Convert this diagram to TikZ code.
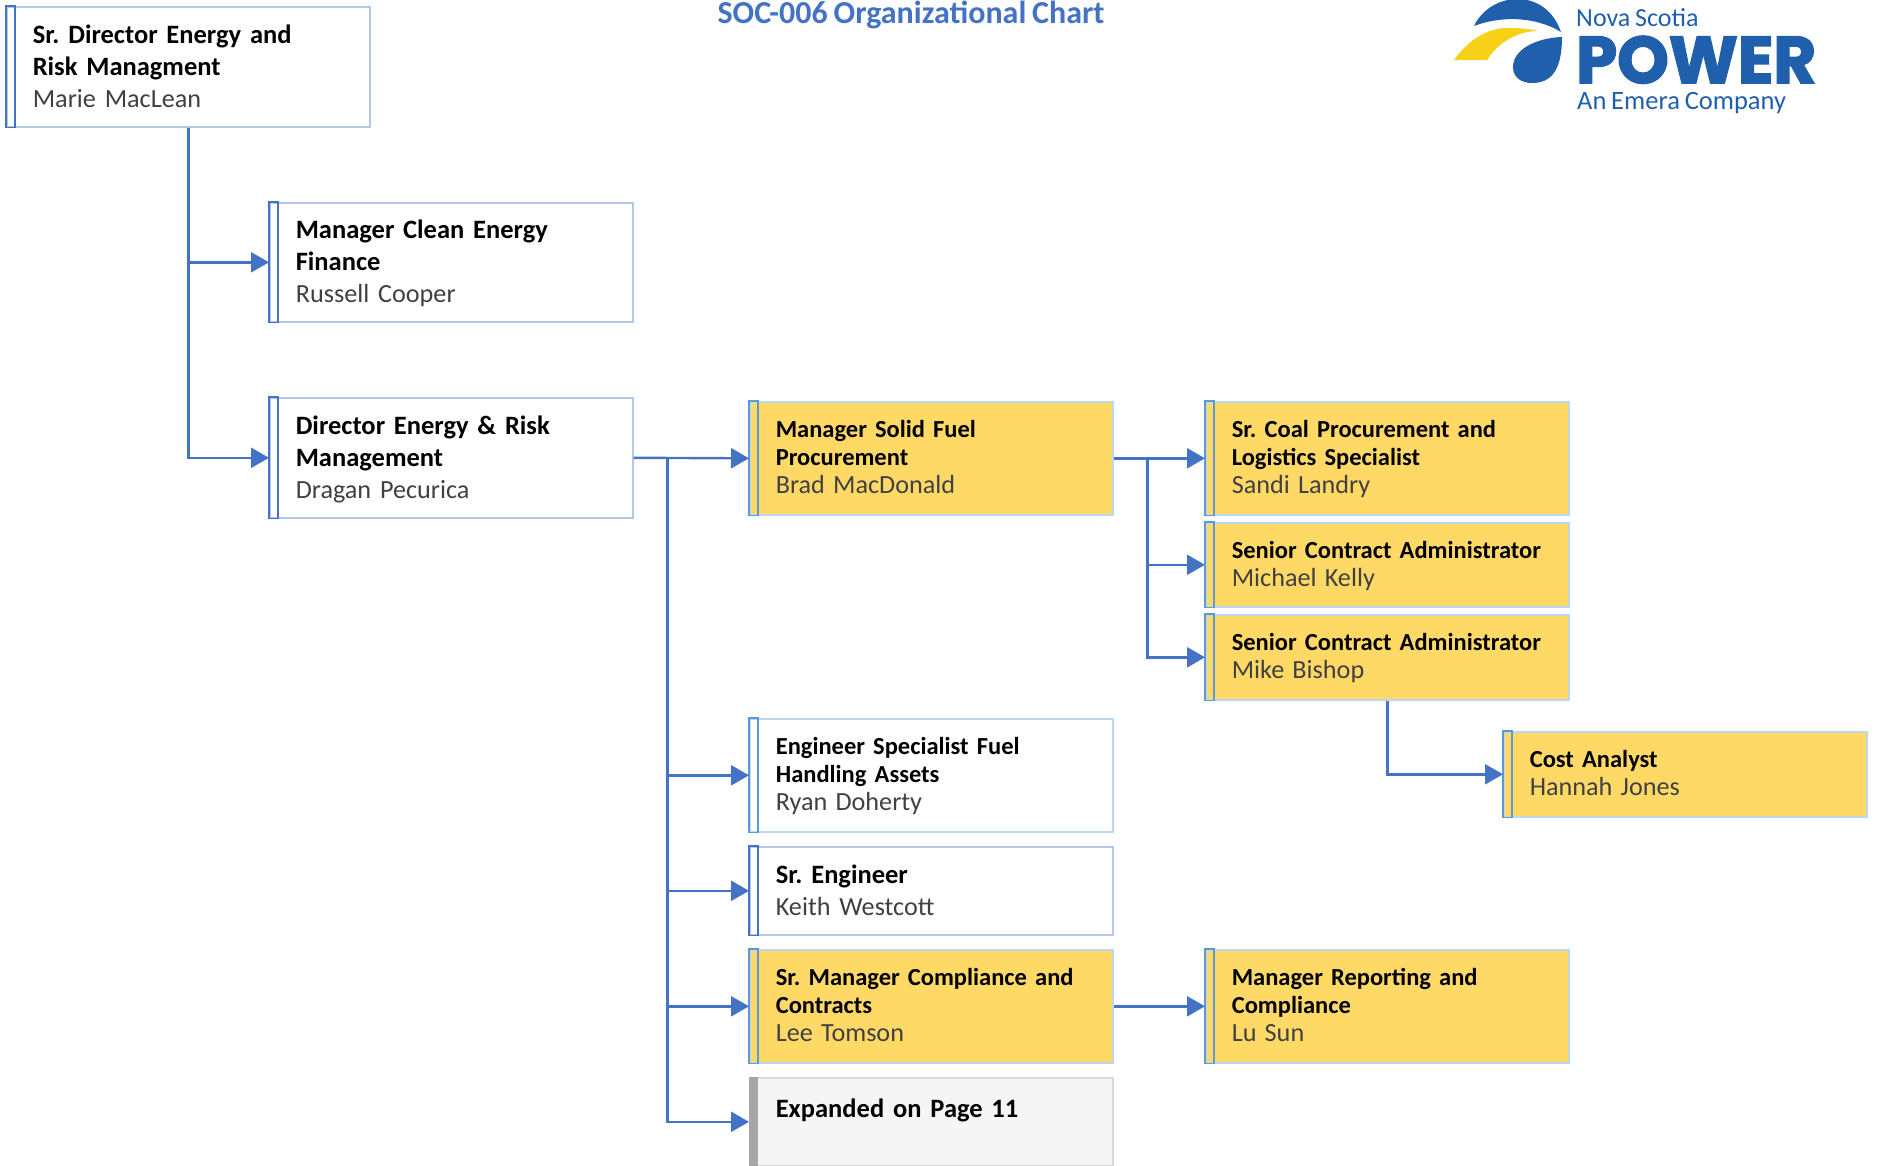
\documentclass[tikz,border=0pt]{standalone}
\usepackage{fontspec}
\setmainfont[WordSpace=0.8]{Carlito}
\newfontfamily\logofont[BoldFeatures={FakeBold=2.5}]{Poppins}
\usetikzlibrary{calc}
\usetikzlibrary{arrows.meta}
\definecolor{linkblue}{HTML}{4472C4}
\definecolor{whiteedge}{HTML}{B4C7E7}
\definecolor{paleedge}{HTML}{BDD7EE}
\definecolor{barblue}{HTML}{5B9BD5}
\definecolor{staffgold}{HTML}{FFD966}
\definecolor{namegray}{HTML}{404040}
\definecolor{logoblue}{HTML}{1F5FAB}
\definecolor{logoyellow}{HTML}{F7D117}
\tikzset{
 orgbox/.style={draw=whiteedge, line width=1.6pt, anchor=north west, align=left, inner xsep=26pt, inner ysep=0pt, text width=311pt, minimum width=363pt},
 bigtext/.style={font=\fontsize{26.5}{32}\selectfont},
 smalltext/.style={font=\fontsize{24.5}{28}\selectfont},
 goldbox/.style={orgbox, smalltext, fill=staffgold, draw=paleedge},
 grayoff/.style={orgbox, bigtext, fill=black!4, draw=black!15},
 link/.style={draw=linkblue, line width=2.4pt, -{Triangle[length=18pt,width=20pt]}},
 logotext/.style={text=logoblue, anchor=base west, inner sep=0pt},
}
\newcommand{\jobtext}[2]{\rule{0pt}{.85em}\textbf{#1}\\{\color{namegray}\fontsize{26.2}{28}\selectfont #2\rule[-6pt]{0pt}{1pt}}}
\frenchspacing
\begin{document}
\begin{tikzpicture}[x=1pt,y=-1pt]
\useasboundingbox (0,0) rectangle (1877,1165);
\clip (0,0) rectangle (1877,1165);

\node[orgbox, bigtext, minimum height=120pt] (srdirector) at (6,6) {\jobtext{Sr. Director Energy and\\Risk Managment}{Marie MacLean}};
\node[orgbox, bigtext, minimum height=119pt] (cleanfinance) at (269,202) {\jobtext{Manager Clean Energy\\Finance}{Russell Cooper}};
\node[orgbox, bigtext, minimum height=120pt] (director) at (269,397) {\jobtext{Director Energy \& Risk\\Management}{Dragan Pecurica}};

\node[goldbox, minimum height=113pt] (solidfuel) at (749,401) {\jobtext{Manager Solid Fuel\\Procurement}{Brad MacDonald}};
\node[goldbox, minimum height=113pt] (coal) at (1205,401) {\jobtext{Sr. Coal Procurement and\\Logistics Specialist}{Sandi Landry}};
\node[goldbox, minimum height=84pt] (contractA) at (1205,522) {\jobtext{Senior Contract Administrator}{Michael Kelly}};
\node[goldbox, minimum height=85pt] (contractB) at (1205,614) {\jobtext{Senior Contract Administrator}{Mike Bishop}};
\node[goldbox, minimum height=85pt] (cost) at (1503,731) {\jobtext{Cost Analyst}{Hannah Jones}};

\node[orgbox, smalltext, draw=paleedge, minimum height=113pt] (fuelassets) at (749,718) {\jobtext{Engineer Specialist Fuel\\Handling Assets}{Ryan Doherty}};
\node[orgbox, bigtext, minimum height=88pt] (engineer) at (749,846) {\jobtext{Sr. Engineer}{Keith Westcott}};
\node[goldbox, minimum height=113pt] (compliance) at (749,949) {\jobtext{Sr. Manager Compliance and\\Contracts}{Lee Tomson}};
\node[goldbox, minimum height=113pt] (reporting) at (1205,949) {\jobtext{Manager Reporting and\\Compliance}{Lu Sun}};
\node[grayoff, minimum height=88pt] (expanded) at (749,1077) {\textbf{Expanded on Page 11}\\[-5pt]~};

\foreach \n in {srdirector, cleanfinance, director, engineer} {
 \draw[linkblue, line width=1.6pt] (\n.north west) rectangle ($(\n.south west)+(9,0)$);
}
\foreach \n in {solidfuel, coal, contractA, contractB, cost, fuelassets, compliance, reporting} {
 \draw[barblue, line width=1.6pt] (\n.north west) rectangle ($(\n.south west)+(9,0)$);
}
\fill[black!35] (expanded.north west) rectangle ($(expanded.south west)+(9,0)$);

\coordinate (busA) at ($(director.east)+(34,0)$);
\coordinate (busB) at ($(solidfuel.east)+(34,0)$);

\draw[link] (srdirector.south) |- (cleanfinance.west);
\draw[link] (srdirector.south) |- (director.west);
\draw[link] (director.east) -- (solidfuel.west);
\foreach \n in {fuelassets, engineer, compliance, expanded} {
 \draw[link] (busA) |- (\n.west);
}
\draw[link] (solidfuel.east) -- (coal.west);
\foreach \n in {contractA, contractB} {
 \draw[link] (busB) |- (\n.west);
}
\draw[link] (contractB.south) |- (cost.west);
\draw[link] (compliance.east) -- (reporting.west);

\node[text=linkblue, font=\fontsize{32}{36}\bfseries\selectfont, anchor=base] (title) at (911,23) {SOC-006 Organizational Chart};

\fill[logoblue] (1474,26) .. controls (1490,-8) and (1545,-14) .. (1561,32) .. controls (1535,16) and (1500,16) .. cycle;
\fill[logoyellow] (1454,60) .. controls (1470,38) and (1490,27) .. (1510,28) .. controls (1520,28) and (1530,29) .. (1538,31) .. controls (1520,31) and (1500,40) .. (1487,60) -- cycle;
\fill[logoblue] (1562,37) .. controls (1535,38) and (1513,50) .. (1513,67) .. controls (1513,78) and (1522,83) .. (1532,83) .. controls (1550,83) and (1562,72) .. (1562,37) -- cycle;
\node[logotext, font=\fontsize{26}{30}\selectfont] (nova) at (1576,26) {Nova Scotia};
\node[logotext, font=\logofont\fontsize{66}{70}\bfseries\selectfont, xscale=.995, text depth=0pt] (power) at (1576,83) {POWER};
\node[logotext, font=\fontsize{26.5}{30}\selectfont] (emera) at (1577,109) {An Emera Company};
\end{tikzpicture}
\end{document}
